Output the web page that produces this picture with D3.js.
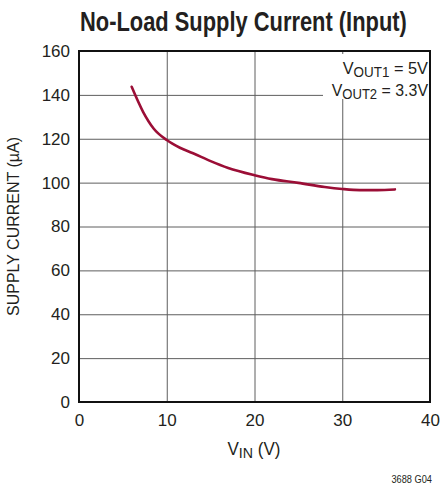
<!DOCTYPE html>
<html>
<head>
<meta charset="utf-8">
<script src="https://cdn.jsdelivr.net/npm/d3@7"></script>
<style>
  html, body { margin: 0; padding: 0; background: #fff; }
  svg { display: block; }
  text { font-family: "Liberation Sans Narrow", "Arial Narrow", "Liberation Sans", sans-serif; fill: #231f20; }
</style>
</head>
<body>
<svg id="chart" width="442" height="487"></svg>
<script>
// ---- data ----
const title = "No-Load Supply Current (Input)";
const xTicks = [0, 10, 20, 30, 40];
const yTicks = [0, 20, 40, 60, 80, 100, 120, 140, 160];
const vin =     [6,     7.3,   8.5,   10,    11.5,  13,    15,    17,    20,    22,    25,    28,   30,   32,   34,   36];
const current = [143.7, 132.3, 124.7, 119.4, 115.9, 113.4, 109.8, 106.7, 103.4, 101.6, 99.9,  98.0, 97.1, 96.6, 96.6, 96.9];
const xLabel = { main: "V", sub: "IN", rest: " (V)" };
const yLabel = "SUPPLY CURRENT (µA)";
const legend = [
  { main: "V", sub: "OUT1", rest: " = 5V" },
  { main: "V", sub: "OUT2", rest: " = 3.3V" }
];
const footnote = "3688 G04";

// ---- layout ----
const svg = d3.select("#chart");
const L = 79, R = 430, T = 51, B = 402;
const x = d3.scaleLinear().domain([0, 40]).range([L, R]);
const y = d3.scaleLinear().domain([0, 160]).range([B, T]);

// horizontally condense a text (anchored at ax) to a target width
function condense(sel, target, ax) {
  const w = sel.node().getBBox().width;
  if (w > target) {
    const k = target / w;
    sel.attr("transform", `translate(${ax},0) scale(${k},1) translate(${-ax},0)`);
  }
}

// title
const tt = svg.append("text")
  .attr("x", 80).attr("y", 31)
  .attr("font-size", 27).attr("font-weight", "bold")
  .text(title);
condense(tt, 327, 80);

// grid via axes
const gx = svg.append("g").attr("transform", `translate(0,${B})`)
  .call(d3.axisBottom(x).tickValues(xTicks).tickSizeInner(-(B - T)).tickSizeOuter(0).tickPadding(12));
const gy = svg.append("g").attr("transform", `translate(${L},0)`)
  .call(d3.axisLeft(y).tickValues(yTicks).tickSizeInner(-(R - L)).tickSizeOuter(0).tickPadding(9));
[gx, gy].forEach(g => {
  g.select(".domain").remove();
  g.selectAll(".tick line").attr("stroke", "#5e5e5e").attr("stroke-width", 1);
  g.selectAll(".tick text").attr("font-size", 17).attr("fill", "#231f20")
    .style("font-family", '"Liberation Sans Narrow", "Arial Narrow", "Liberation Sans", sans-serif');
});

// legend white box
svg.append("rect").attr("x", 323).attr("y", 54).attr("width", 106).attr("height", 45).attr("fill", "#fff");

// legend text
const legendW = [86, 97];
legend.forEach((d, i) => {
  const t = svg.append("text")
    .attr("x", 428).attr("y", 74 + i * 22)
    .attr("text-anchor", "end").attr("font-size", 17);
  t.append("tspan").text(d.main);
  t.append("tspan").attr("font-size", 14).attr("dy", 3).text(d.sub);
  t.append("tspan").attr("dy", -3).text(d.rest);
  condense(t, legendW[i], 428);
});

// frame
svg.append("rect").attr("x", L).attr("y", T).attr("width", R - L).attr("height", B - T)
  .attr("fill", "none").attr("stroke", "#111").attr("stroke-width", 2);

// curve
const line = d3.line().x((d, i) => x(vin[i])).y(d => y(d)).curve(d3.curveMonotoneX);
svg.append("path").datum(current)
  .attr("d", line).attr("fill", "none")
  .attr("stroke", "#9b0e36").attr("stroke-width", 2.6).attr("stroke-linecap", "round");

// x label
const xl = svg.append("text").attr("x", 254).attr("y", 455).attr("text-anchor", "middle").attr("font-size", 18);
xl.append("tspan").text(xLabel.main);
xl.append("tspan").attr("font-size", 15).attr("dy", 3).text(xLabel.sub);
xl.append("tspan").attr("dy", -3).text(xLabel.rest);
condense(xl, 53, 254);

// y label
svg.append("text")
  .attr("transform", `translate(19,${(T + B) / 2}) rotate(-90)`)
  .attr("text-anchor", "middle").attr("font-size", 16)
  .text(yLabel);

// footnote
const fn = svg.append("text").attr("x", 432).attr("y", 483).attr("text-anchor", "end").attr("font-size", 10).text(footnote);
condense(fn, 41, 432);
</script>
</body>
</html>
